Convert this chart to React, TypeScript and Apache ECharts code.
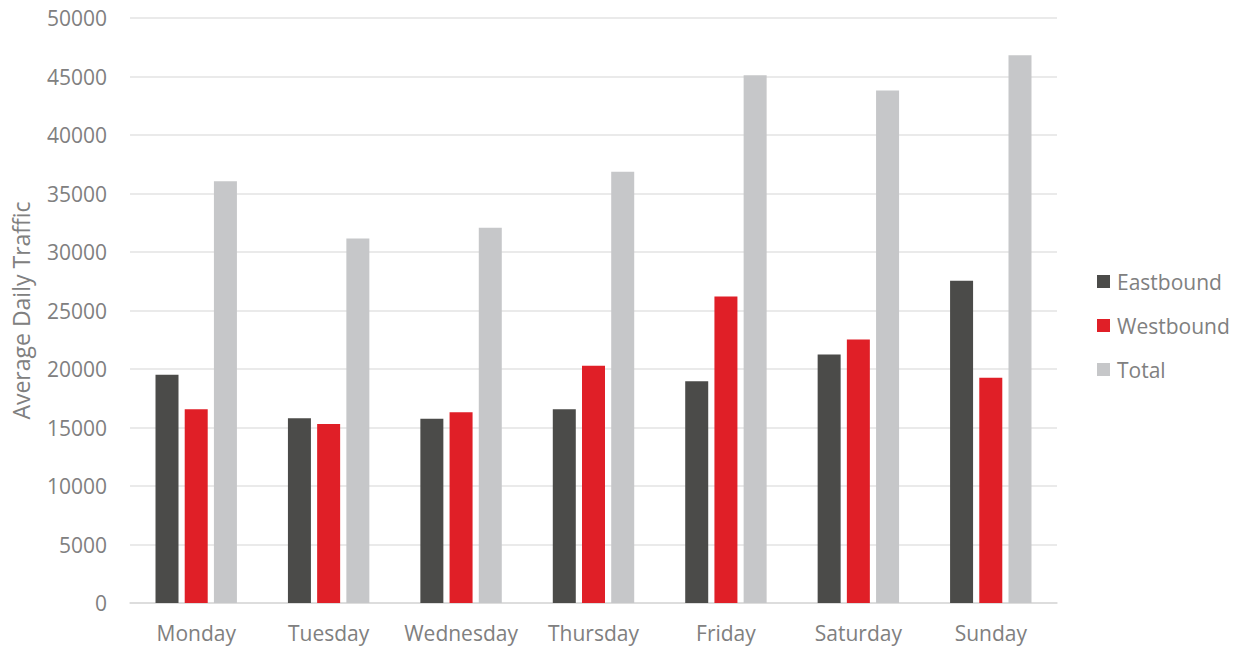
import React, { useEffect, useRef } from "react";
import * as echarts from "echarts";

const categories = ["Monday", "Tuesday", "Wednesday", "Thursday", "Friday", "Saturday", "Sunday"];
const eastbound = [19500, 15800, 15750, 16550, 18950, 21250, 27550];
const westbound = [16550, 15300, 16300, 20270, 26200, 22520, 19250];
const total = [36050, 31150, 32070, 36850, 45100, 43800, 46820];

const FONT = "'Open Sans', 'Liberation Sans', sans-serif";
const TEXT = "#808080";

export default function App() {
  const ref = useRef<HTMLDivElement>(null);
  useEffect(() => {
    document.body.style.margin = "0";
    document.body.style.overflow = "hidden";
    if (!ref.current) return;
    const chart = echarts.init(ref.current, undefined, { renderer: "svg" });
    const bar = (name: string, data: number[], color: string) => ({
      name,
      type: "bar",
      data,
      barWidth: 23,
      barGap: "27%",
      itemStyle: { color },
    });
    chart.setOption({
      animation: false,
      textStyle: { fontFamily: FONT },
      grid: { left: 130, right: 183, top: 18, bottom: 47, outerBoundsMode: "none", containLabel: false },
      legend: {
        orient: "vertical",
        left: 1097,
        top: 271,
        padding: 0,
        itemWidth: 13,
        itemHeight: 13,
        itemGap: 23,
        icon: "rect",
        textStyle: { color: TEXT, fontSize: 21, fontFamily: FONT, padding: [0, 0, 0, 2] },
        data: ["Eastbound", "Westbound", "Total"],
      },
      xAxis: {
        type: "category",
        data: categories,
        axisLine: { show: true, lineStyle: { color: "#d9d9d9", width: 1.5 } },
        axisTick: { show: false },
        axisLabel: { color: TEXT, fontSize: 21, margin: 19, interval: 0, fontFamily: FONT },
      },
      yAxis: {
        type: "value",
        min: 0,
        max: 50000,
        interval: 5000,
        name: "Average Daily Traffic",
        nameLocation: "middle",
        nameGap: 98,
        nameTextStyle: { color: TEXT, fontSize: 23, fontFamily: FONT },
        axisLine: { show: false },
        axisTick: { show: false },
        axisLabel: {
          color: TEXT,
          fontSize: 21,
          margin: 23,
          fontFamily: FONT,
          formatter: (v: number) => String(v),
        },
        splitLine: { lineStyle: { color: "#e3e3e3", width: 1.5 } },
      },
      series: [
        bar("Eastbound", eastbound, "#4b4b49"),
        bar("Westbound", westbound, "#e01f27"),
        bar("Total", total, "#c6c7c9"),
      ],
    });
    return () => chart.dispose();
  }, []);
  return <div ref={ref} style={{ width: 1240, height: 650 }} />;
}
